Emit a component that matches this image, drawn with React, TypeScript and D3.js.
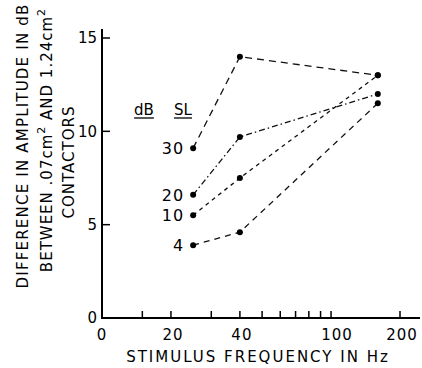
import React, { useEffect, useRef } from "react";
import * as d3 from "d3";

// stimulus frequencies (Hz) of the three measurement columns
const freqs = [25, 40, 160];
// difference in amplitude (dB) per sensation level
const seriesLabels = ["30", "20", "10", "4"];
const sl30 = [9.1, 14, 13];
const sl20 = [6.6, 9.7, 12];
const sl10 = [5.5, 7.5, 13];
const sl4 = [3.9, 4.6, 11.5];
const dashes = ["7,5", "6,3,1.5,3", "4,4", "6,5"];

const yTicks = [0, 5, 10, 15];
const xMinor = [15, 20, 30, 40, 50, 60, 70, 80, 90, 100, 200];
const xLabels: [number, string][] = [
  [10, "0"],
  [20, "20"],
  [40, "40"],
  [100, "100"],
  [200, "200"],
];

const W = 422;
const H = 368;
const FONT = "'DejaVu Sans', sans-serif";

export default function App() {
  const ref = useRef<SVGSVGElement>(null);

  useEffect(() => {
    const svg = d3.select(ref.current);
    svg.selectAll("*").remove();

    const x = d3.scaleLog().domain([10, 200]).range([102, 400]);
    const y = d3.scaleLinear().domain([0, 15]).range([318, 38]);

    svg.append("rect").attr("width", W).attr("height", H).attr("fill", "#fff");

    // axes
    svg
      .append("line")
      .attr("x1", x(10))
      .attr("x2", x(10))
      .attr("y1", 29)
      .attr("y2", y(0))
      .attr("stroke", "#000")
      .attr("stroke-width", 2);
    svg
      .append("line")
      .attr("x1", x(10) - 1)
      .attr("x2", 420)
      .attr("y1", y(0))
      .attr("y2", y(0))
      .attr("stroke", "#000")
      .attr("stroke-width", 2);

    // y ticks point inward
    const yt = svg.append("g");
    yt.selectAll("line")
      .data(yTicks.filter((d) => d > 0))
      .join("line")
      .attr("x1", x(10))
      .attr("x2", x(10) + 8)
      .attr("y1", (d) => y(d))
      .attr("y2", (d) => y(d))
      .attr("stroke", "#000")
      .attr("stroke-width", 1.5);
    yt.selectAll("text")
      .data(yTicks)
      .join("text")
      .attr("x", 97)
      .attr("y", (d) => y(d))
      .attr("dy", "0.36em")
      .attr("text-anchor", "end")
      .style("font-family", FONT)
      .style("font-size", "15px")
      .text((d) => d);

    // x ticks, log spaced
    svg
      .append("g")
      .selectAll("line")
      .data(xMinor)
      .join("line")
      .attr("x1", (d) => x(d))
      .attr("x2", (d) => x(d))
      .attr("y1", y(0))
      .attr("y2", y(0) - 7)
      .attr("stroke", "#000")
      .attr("stroke-width", 1.5);
    svg
      .append("g")
      .selectAll("text")
      .data(xLabels)
      .join("text")
      .attr("x", (d) => x(d[0]) + (d[0] === 100 ? 6 : d[0] === 10 ? 0 : 2))
      .attr("y", 340)
      .attr("text-anchor", "middle")
      .style("font-family", FONT)
      .style("font-size", "15px")
      .style("letter-spacing", "1px")
      .text((d) => d[1]);

    // axis titles
    svg
      .append("text")
      .attr("x", 258)
      .attr("y", 362)
      .attr("text-anchor", "middle")
      .style("font-family", FONT)
      .style("font-size", "15px")
      .style("letter-spacing", "2px")
      .text("STIMULUS FREQUENCY IN Hz");

    const ytitle = svg.append("g").style("font-family", FONT).style("font-size", "15px");
    ytitle
      .append("text")
      .attr("transform", "translate(28,146) rotate(-90)")
      .attr("text-anchor", "middle")
      .style("letter-spacing", "1.2px")
      .text("DIFFERENCE IN AMPLITUDE IN dB");
    const l2 = ytitle
      .append("text")
      .attr("transform", "translate(52,140) rotate(-90)")
      .attr("text-anchor", "middle")
      .style("letter-spacing", "1px");
    l2.append("tspan").text("BETWEEN .07cm");
    l2.append("tspan").attr("dy", -7).style("font-size", "11px").text("2");
    l2.append("tspan").attr("dy", 7).text(" AND 1.24cm");
    l2.append("tspan").attr("dy", -7).style("font-size", "11px").text("2");
    ytitle
      .append("text")
      .attr("transform", "translate(74,162) rotate(-90)")
      .attr("text-anchor", "middle")
      .style("letter-spacing", "1px")
      .text("CONTACTORS");

    // legend header
    const hdr = [
      ["dB", 144],
      ["SL", 183],
    ] as [string, number][];
    hdr.forEach(([t, cx]) => {
      const tx = svg
        .append("text")
        .attr("x", cx)
        .attr("y", 115)
        .attr("text-anchor", "middle")
        .style("font-family", FONT)
        .style("font-size", "15px")
        .text(t);
      const w = (tx.node() as SVGTextElement).getComputedTextLength();
      svg
        .append("line")
        .attr("x1", cx - w / 2)
        .attr("x2", cx + w / 2)
        .attr("y1", 118)
        .attr("y2", 118)
        .attr("stroke", "#000")
        .attr("stroke-width", 1.3);
    });

    const series = [sl30, sl20, sl10, sl4];
    const line = d3
      .line<number>()
      .x((_, i) => x(freqs[i]))
      .y((d) => y(d));

    series.forEach((vals, si) => {
      svg
        .append("path")
        .attr("d", line(vals))
        .attr("fill", "none")
        .attr("stroke", "#111")
        .attr("stroke-width", 1.3)
        .attr("stroke-dasharray", dashes[si]);
      svg
        .append("g")
        .selectAll("circle")
        .data(vals)
        .join("circle")
        .attr("cx", (_, i) => x(freqs[i]))
        .attr("cy", (d) => y(d))
        .attr("r", 3)
        .attr("fill", "#000");
      svg
        .append("text")
        .attr("x", x(freqs[0]) - 9)
        .attr("y", y(vals[0]))
        .attr("dy", "0.36em")
        .attr("text-anchor", "end")
        .style("font-family", FONT)
        .style("font-size", "16px")
        .style("letter-spacing", "1px")
        .text(seriesLabels[si]);
    });
  }, []);

  return (
    <svg
      ref={ref}
      width={W}
      height={H}
      viewBox={`0 0 ${W} ${H}`}
      style={{ position: "absolute", left: 0, top: 0, display: "block" }}
    />
  );
}
